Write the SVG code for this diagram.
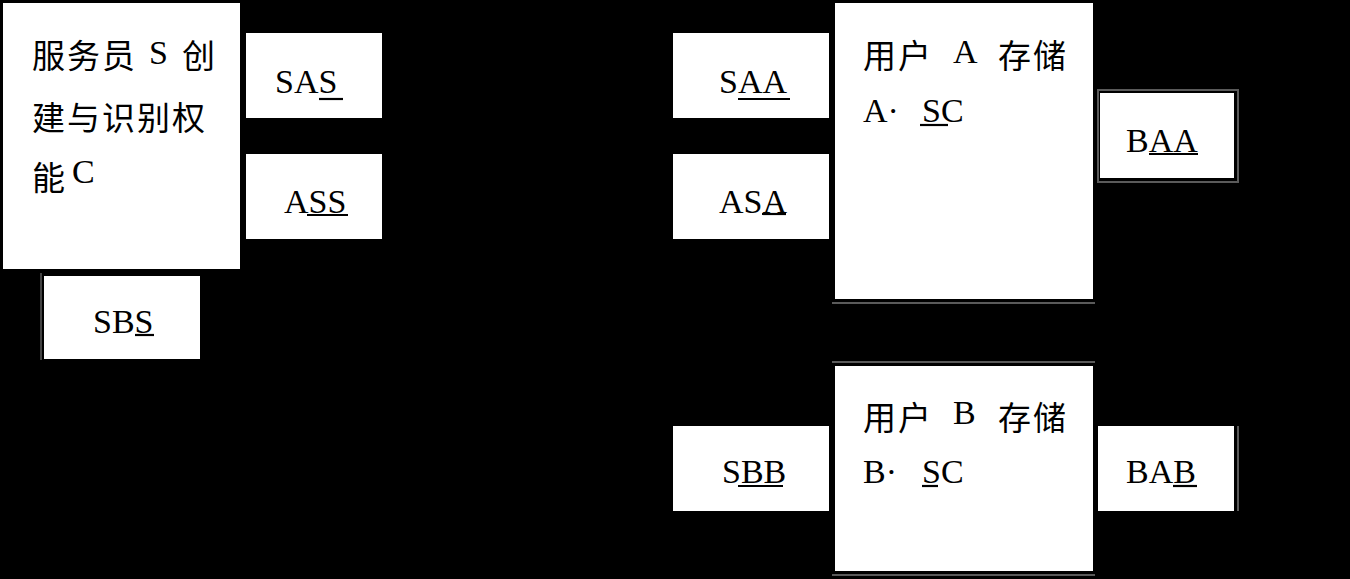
<svg xmlns="http://www.w3.org/2000/svg" width="1350" height="579" viewBox="0 0 1350 579">
<style>
.box{fill:#fff}
.t{font-family:"Liberation Serif","Noto Sans CJK SC",serif;font-size:34px;fill:#000}
.c{font-family:"Liberation Serif","Noto Sans CJK SC",serif;font-size:33px;fill:#000;letter-spacing:2px}
.u{stroke:#000;stroke-width:2.2}
.g{stroke:#5a5a5a;stroke-width:2;fill:none}
</style>
<rect width="1350" height="579" fill="#000"/>
<g id="connectors"></g>
<g id="server">
<rect class="box" x="3" y="3" width="237" height="266"/>
<text class="c" x="32" y="68">服务员</text>
<text class="t" x="149" y="64">S</text>
<text class="c" x="182" y="68">创</text>
<text class="c" x="32" y="130">建与识别权</text>
<text class="c" x="32" y="190">能</text>
<text class="t" x="72" y="183">C</text>
</g>
<g id="SAS">
<rect class="box" x="246" y="33" width="136" height="85"/>
<text class="t" x="275" y="93">SAS</text>
<line class="u" x1="319" y1="99" x2="343" y2="99"/>
</g>
<g id="ASS">
<rect class="box" x="246" y="154" width="136" height="85"/>
<text class="t" x="284" y="213">ASS</text>
<line class="u" x1="307" y1="215" x2="348" y2="215"/>
</g>
<g id="SBS">
<line class="g" x1="41" y1="273" x2="41" y2="360" style="stroke-width:1.5"/>
<rect class="box" x="44" y="276" width="156" height="83"/>
<text class="t" x="93" y="333">SBS</text>
<line class="u" x1="135" y1="335" x2="154" y2="335"/>
</g>
<g id="SAA">
<rect class="box" x="673" y="33" width="156" height="85"/>
<text class="t" x="719" y="93">SAA</text>
<line class="u" x1="738" y1="99" x2="790" y2="99"/>
</g>
<g id="ASA">
<rect class="box" x="673" y="154" width="156" height="85"/>
<text class="t" x="719" y="213">ASA</text>
<line class="u" x1="762" y1="214" x2="786" y2="214"/>
</g>
<g id="userA">
<rect class="box" x="835" y="3" width="258" height="296"/>
<line class="g" x1="832" y1="303" x2="1095" y2="303"/>
<text class="c" x="863" y="68">用户</text>
<text class="t" x="953" y="63">A</text>
<text class="c" x="998" y="68">存储</text>
<text class="t" x="863" y="122">A·</text>
<text class="t" x="922" y="122">SC</text>
<line class="u" x1="920" y1="125" x2="948" y2="125"/>
</g>
<g id="BAA">
<rect class="g" x="1098" y="90" width="140" height="92"/>
<rect class="box" x="1100" y="93" width="134" height="85"/>
<text class="t" x="1126" y="152">BAA</text>
<line class="u" x1="1149" y1="154" x2="1198" y2="154"/>
</g>
<g id="SBB">
<rect class="box" x="673" y="426" width="156" height="85"/>
<text class="t" x="722" y="483">SBB</text>
<line class="u" x1="738" y1="486" x2="783" y2="486"/>
</g>
<g id="userB">
<line class="g" x1="832" y1="362" x2="1095" y2="362"/>
<rect class="box" x="835" y="366" width="258" height="205"/>
<line class="g" x1="832" y1="575" x2="1095" y2="575"/>
<text class="c" x="863" y="430">用户</text>
<text class="t" x="953" y="424">B</text>
<text class="c" x="998" y="430">存储</text>
<text class="t" x="863" y="483">B·</text>
<text class="t" x="922" y="483">SC</text>
<line class="u" x1="922" y1="486" x2="938" y2="486"/>
</g>
<g id="BAB">
<rect class="box" x="1098" y="426" width="136" height="85"/>
<line class="g" x1="1238" y1="426" x2="1238" y2="511"/>
<text class="t" x="1126" y="483">BAB</text>
<line class="u" x1="1173" y1="486" x2="1197" y2="486"/>
</g>
</svg>
